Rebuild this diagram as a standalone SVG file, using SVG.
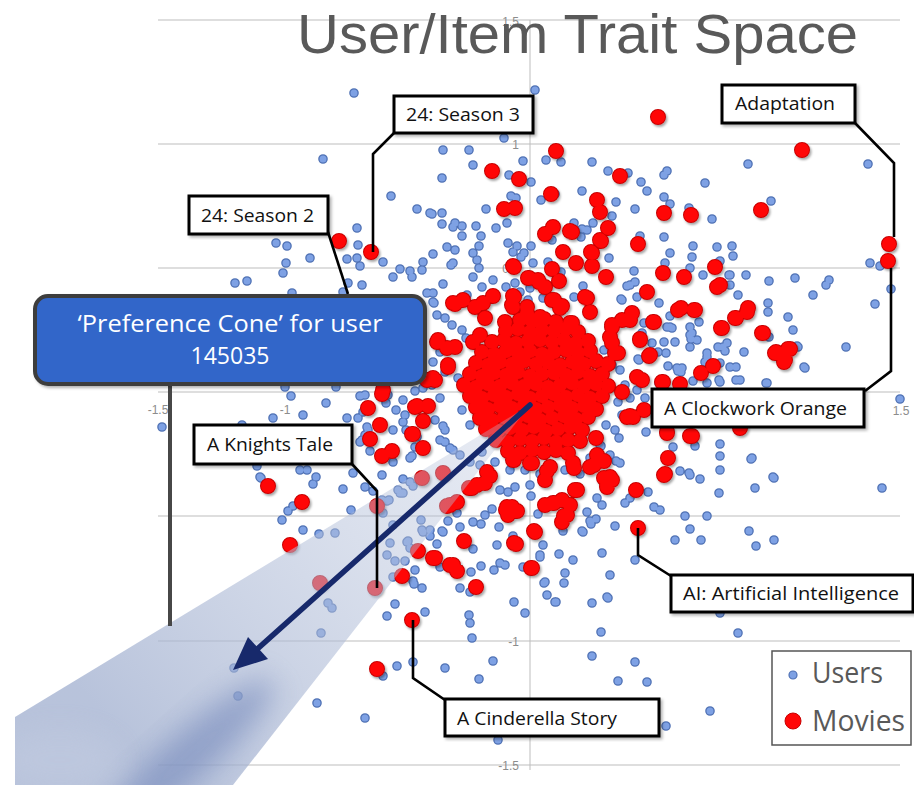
<svg xmlns="http://www.w3.org/2000/svg" xmlns:xlink="http://www.w3.org/1999/xlink" width="914" height="785" viewBox="0 0 914 785">
<style>
.grid{stroke:#bdbdbd;stroke-width:1;fill:none}
.tick{font-family:"Liberation Sans",Arial,sans-serif;font-size:12px;fill:#8c8c8c}
.bO{fill:none;stroke:#4f71b4;stroke-width:9.6;stroke-linecap:round}
.bI{fill:none;stroke:#7ea1e4;stroke-width:7;stroke-linecap:round}
.rO{fill:none;stroke:#c80000;stroke-width:16;stroke-linecap:round}
.rI{fill:none;stroke:#ff0606;stroke-width:14;stroke-linecap:round}
.lead{fill:none;stroke:#000;stroke-width:2.6;stroke-linejoin:miter}
.box{fill:#fff;stroke:#000;stroke-width:3}
.lbl{font-family:"Open Sans","Liberation Sans",Arial,sans-serif;font-size:18px;fill:#111}
.leg{font-family:"Open Sans","Liberation Sans",Arial,sans-serif;font-size:29px;fill:#595959}
</style>
<defs>
<filter id="sh" x="-10%" y="-10%" width="130%" height="130%"><feDropShadow dx="1.5" dy="2" stdDeviation="1.2" flood-color="#000" flood-opacity="0.35"/></filter>
<filter id="bshadow" x="-5%" y="-5%" width="115%" height="120%"><feDropShadow dx="2" dy="2" stdDeviation="1.5" flood-color="#000" flood-opacity="0.3"/></filter>
<filter id="blur12" x="-50%" y="-50%" width="200%" height="200%"><feGaussianBlur stdDeviation="14"/></filter>
<linearGradient id="coneG" gradientUnits="userSpaceOnUse" x1="530" y1="405" x2="140" y2="755">
<stop offset="0" stop-color="#b9c4dc" stop-opacity="0.3"/>
<stop offset="0.45" stop-color="#b3bfd9" stop-opacity="0.52"/>
<stop offset="1" stop-color="#a4b2d1" stop-opacity="0.78"/>
</linearGradient>
<clipPath id="coneClip"><polygon points="530,405 15,717 15,785 233,785"/></clipPath>
<path id="bd" d="M354 93h0M535 90h0M323 159h0M443 150h0M442 178h0M391 196h0M417 209h0M430 213h0M442 213h0M442 224h0M453 227h0M357 228h0M276 243h0M287 246h0M358 245h0M310 258h0M286 263h0M283 273h0M347 259h0M357 258h0M360 266h0M383 262h0M433 254h0M423 262h0M422 270h0M393 277h0M400 269h0M410 271h0M412 277h0M447 247h0M453 263h0M348 283h0M362 285h0M235 283h0M247 281h0M292 293h0M343 292h0M427 293h0M433 302h0
M469 150h0M504 138h0M473 165h0M523 161h0M509 175h0M531 182h0M546 160h0M561 162h0M592 162h0M608 171h0M582 191h0M511 196h0M516 198h0M541 200h0M555 194h0M486 209h0M616 202h0M612 216h0M593 223h0M574 223h0M582 229h0M587 230h0M432 214h0M455 223h0M462 226h0M462 236h0M476 226h0M481 236h0M496 228h0M507 223h0M552 240h0M581 237h0M455 250h0M451 265h0M479 246h0M473 253h0M477 260h0M479 268h0M508 243h0M517 246h0M513 252h0M521 257h0M524 253h0M531 246h0M533 263h0M548 262h0M561 272h0M609 258h0M443 284h0M473 277h0M482 287h0M493 280h0M506 287h0M515 283h0M520 292h0M530 288h0M583 286h0M574 297h0M622 300h0M433 293h0M434 303h0M467 295h0M528 300h0M543 298h0
M628 173h0M667 171h0M664 175h0M641 182h0M647 191h0M705 183h0M748 164h0M868 164h0M664 197h0M670 204h0M635 209h0M689 208h0M712 219h0M771 201h0M640 236h0M664 237h0M693 246h0M692 257h0M717 247h0M732 246h0M733 256h0M670 253h0M665 263h0M719 262h0M870 263h0M880 266h0M891 289h0M875 304h0M795 278h0M813 295h0M826 285h0M829 280h0M769 281h0M746 275h0M730 275h0M730 285h0M738 295h0M768 303h0M768 312h0M788 317h0M793 330h0M846 347h0M805 368h0M797 346h0M769 337h0M744 352h0M736 367h0M767 383h0M740 380h0M723 347h0M725 351h0M707 353h0M705 362h0M690 327h0M690 335h0M697 340h0M699 322h0M664 342h0M675 342h0M666 353h0M668 366h0M677 368h0M681 372h0M659 303h0M644 323h0M642 333h0M638 359h0M621 299h0M627 286h0M635 282h0M637 297h0M670 316h0M670 327h0M659 383h0M693 381h0M720 382h0M736 380h0M690 268h0M703 275h0M729 275h0M720 261h0M634 271h0M630 285h0M804 367h0M798 347h0M727 343h0M718 347h0M707 357h0M692 333h0M691 339h0M690 347h0M672 328h0M667 327h0M658 352h0M652 343h0M639 360h0M678 371h0M682 368h0M720 363h0M730 367h0M707 383h0M719 380h0M766 383h0M637 390h0M645 398h0M630 398h0
M900 399h0M882 488h0M774 478h0M755 488h0M751 459h0M720 444h0M720 456h0M720 470h0M719 493h0M700 479h0M690 475h0M680 471h0M673 447h0M695 446h0M646 432h0M619 438h0M601 446h0M616 461h0M620 463h0M648 492h0M654 507h0M660 510h0M685 516h0M707 516h0M690 529h0M701 540h0M675 540h0M749 531h0M756 546h0M774 540h0M615 526h0M635 560h0M610 575h0M607 597h0M592 603h0M601 632h0M738 633h0M720 613h0M592 656h0M635 662h0M618 681h0M647 682h0M710 711h0M666 726h0M493 661h0M479 679h0M498 740h0M472 638h0M469 615h0M470 623h0M514 602h0M525 613h0M545 582h0M565 573h0M564 583h0M555 602h0M547 595h0M540 555h0M543 545h0M559 554h0M573 560h0M602 553h0M582 531h0M590 521h0M596 519h0M625 503h0M630 498h0M752 458h0M773 477h0M689 473h0
M457 513h0M448 521h0M460 527h0M473 522h0M481 524h0M485 515h0M492 509h0M499 527h0M443 532h0M437 544h0M473 549h0M497 545h0M513 536h0M540 557h0M544 583h0M556 602h0M608 598h0M481 566h0M494 570h0M500 563h0M505 565h0M523 567h0M471 572h0M440 567h0M460 588h0M470 592h0M583 532h0M591 524h0M587 512h0M538 514h0M563 531h0M500 490h0M508 492h0M515 487h0M530 485h0M531 496h0M597 498h0M602 505h0
M291 396h0M285 387h0M326 403h0M336 387h0M273 418h0M303 415h0M360 396h0M365 395h0M363 412h0M358 418h0M367 427h0M365 435h0M360 442h0M388 395h0M386 403h0M396 410h0M403 400h0M415 391h0M423 388h0M427 408h0M403 422h0M406 430h0M417 437h0M415 447h0M410 458h0M353 473h0M382 475h0M300 470h0M307 470h0M316 477h0M260 477h0M162 427h0M242 425h0M347 418h0M368 430h0M370 451h0M362 440h0M405 415h0M393 430h0M380 426h0M412 456h0M393 462h0M383 456h0M403 479h0M413 486h0M400 493h0M421 520h0M445 442h0M443 426h0M453 450h0M442 531h0M430 536h0M422 530h0M408 541h0M410 548h0M387 555h0M395 561h0M405 561h0M415 570h0M413 581h0M422 588h0M395 604h0M387 616h0M425 612h0M257 466h0M261 478h0M313 484h0M343 489h0M365 487h0M373 491h0M382 500h0M387 501h0M293 506h0M288 511h0M282 520h0M351 510h0M303 530h0M319 534h0M335 533h0M328 603h0M332 608h0M321 633h0M234 668h0M238 696h0M317 703h0M365 718h0M397 666h0M413 662h0M445 668h0M383 676h0M398 490h0M403 493h0M410 482h0M393 525h0M390 543h0M407 542h0M393 577h0M414 584h0M423 532h0M430 530h0M389 500h0M383 513h0
M437 315h0M445 318h0M452 325h0M462 330h0M440 352h0M433 362h0M445 372h0M432 385h0M440 398h0M435 420h0M445 430h0M440 440h0M450 448h0M460 455h0M470 462h0M480 465h0M620 370h0M625 385h0M618 402h0M622 415h0M615 430h0M600 445h0M610 455h0M590 458h0M495 462h0M510 470h0M525 470h0M540 474h0M565 470h0M580 474h0M466 338h0M458 378h0M462 410h0M470 425h0M604 350h0M612 365h0M606 425h0M482 452h0"/>
<path id="rd" d="M339 241h0M371 252h0M658 117h0M802 150h0M556 151h0M492 171h0M519 179h0M620 176h0M551 194h0M597 200h0M600 212h0M504 209h0M515 208h0M664 213h0M691 215h0M761 210h0M889 244h0M888 261h0M638 244h0M608 228h0M600 240h0M591 252h0M570 231h0M553 227h0M545 234h0M572 232h0M601 241h0M592 253h0M563 252h0M576 263h0M592 266h0M606 277h0M513 266h0M552 269h0M528 278h0M538 280h0M545 287h0M559 281h0M552 300h0M562 306h0M585 297h0M513 296h0M493 296h0M483 303h0M463 300h0M455 304h0M475 307h0M513 307h0M527 307h0M663 273h0M684 277h0M715 267h0M717 287h0M720 285h0M647 292h0M681 308h0M694 310h0M748 308h0M736 318h0M721 328h0M762 333h0M776 352h0M788 349h0M785 360h0M713 366h0M701 373h0M654 322h0M640 339h0M649 356h0M637 377h0M663 382h0M680 384h0M632 313h0M612 325h0M610 337h0M615 353h0M590 312h0M587 298h0M570 323h0M554 300h0M560 308h0M529 278h0M539 282h0M514 267h0M514 297h0M512 305h0M630 320h0M653 322h0M678 310h0M695 310h0M735 318h0M747 312h0M722 328h0M763 333h0M775 353h0M790 349h0M784 362h0M640 340h0M650 355h0M642 380h0M662 382h0M633 417h0M644 410h0M667 433h0M692 436h0M668 458h0M665 474h0M740 428h0M630 416h0M636 490h0M638 528h0M664 475h0M690 436h0M667 432h0
M368 408h0M380 425h0M412 434h0M423 421h0M417 406h0M428 406h0M382 456h0M392 451h0M423 448h0M443 473h0M447 506h0M418 551h0M433 558h0M450 565h0M402 576h0M412 620h0M377 669h0M268 486h0M302 502h0M290 545h0M320 583h0M375 588h0M377 506h0M422 478h0M382 394h0M370 439h0M413 434h0M415 407h0M427 380h0
M450 505h0M457 502h0M472 488h0M485 483h0M507 507h0M517 511h0M508 515h0M545 480h0M553 503h0M562 500h0M577 490h0M567 515h0M562 522h0M607 485h0M535 532h0M464 541h0M516 544h0M435 558h0M453 565h0M457 571h0M532 568h0M476 587h0M514 543h0M534 531h0M531 568h0M506 510h0M512 507h0M604 478h0M612 480h0M607 487h0M575 490h0M570 505h0M564 516h0M554 503h0M545 505h0M574 468h0M547 471h0M530 463h0M514 460h0M594 465h0M597 455h0M604 461h0M477 485h0M469 488h0M490 476h0
M453 303h0M438 340h0M447 348h0M433 378h0M448 367h0M383 390h0M437 342h0M455 347h0M448 365h0M435 380h0M473 342h0M480 335h0M485 318h0M505 322h0M527 313h0M540 317h0M572 323h0M612 327h0M622 320h0M612 343h0M618 353h0M622 392h0M627 417h0M487 472h0M513 460h0M532 463h0M550 467h0M573 463h0M590 467h0M610 477h0
M520 320h0M532 321h0M544 319h0M556 322h0M506 331h0M518 329h0M530 332h0M542 330h0M554 331h0M566 329h0M578 332h0M492 342h0M504 340h0M516 343h0M528 341h0M540 340h0M552 342h0M564 340h0M576 343h0M588 341h0M482 352h0M494 354h0M506 351h0M518 353h0M530 351h0M542 354h0M554 352h0M566 350h0M578 353h0M590 351h0M476 363h0M488 365h0M500 362h0M512 364h0M524 361h0M536 364h0M548 362h0M560 365h0M572 362h0M584 364h0M596 361h0M608 364h0M470 374h0M482 376h0M494 373h0M506 375h0M518 372h0M530 376h0M542 374h0M554 373h0M566 375h0M578 372h0M590 376h0M602 374h0M464 385h0M476 387h0M488 384h0M500 386h0M512 383h0M524 386h0M536 384h0M548 387h0M560 385h0M572 383h0M584 386h0M596 384h0M608 386h0M470 396h0M482 398h0M494 395h0M506 397h0M518 394h0M530 398h0M542 396h0M554 394h0M566 397h0M578 395h0M590 398h0M602 396h0M476 407h0M488 409h0M500 406h0M512 408h0M524 405h0M536 409h0M548 407h0M560 405h0M572 408h0M584 406h0M596 409h0M480 418h0M492 420h0M504 417h0M516 419h0M528 416h0M540 420h0M552 418h0M564 416h0M576 419h0M588 417h0M486 429h0M498 431h0M510 428h0M522 430h0M534 427h0M546 431h0M558 429h0M570 427h0M582 430h0M596 438h0M496 440h0M508 442h0M520 439h0M532 441h0M544 438h0M556 442h0M568 440h0M580 441h0M508 451h0M520 453h0M532 450h0M544 452h0M556 450h0M568 453h0"/>
</defs>

<rect width="914" height="785" fill="#fff"/>

<g id="axes">
<path class="grid" d="M158 20H900M158 144H900M158 268H900M158 392H900M158 516H900M158 641H900M158 765H900M530 20V770"/>
<text class="tick" x="519" y="26" text-anchor="end">1.5</text>
<text class="tick" x="519" y="149" text-anchor="end">1</text>
<text class="tick" x="519" y="273" text-anchor="end">0.5</text>
<text class="tick" x="519" y="646" text-anchor="end">-1</text>
<text class="tick" x="519" y="770" text-anchor="end">-1.5</text>
<text class="tick" x="158" y="414" text-anchor="middle">-1.5</text>
<text class="tick" x="285" y="414" text-anchor="middle">-1</text>
<text class="tick" x="901" y="415" text-anchor="middle">1.5</text>
</g>

<g id="users">
<use xlink:href="#bd" class="bO"/>
<use xlink:href="#bd" class="bI"/>
</g>
<g id="movies">
<use xlink:href="#rd" class="rO" filter="url(#sh)"/>
<use xlink:href="#rd" class="rI"/>
</g>

<g id="cone">
<polygon points="530,405 15,717 15,785 233,785" fill="url(#coneG)"/>
<g clip-path="url(#coneClip)">
<ellipse cx="190" cy="755" rx="110" ry="24" transform="rotate(-41.6 190 755)" fill="#6d82b7" opacity="0.55" filter="url(#blur12)"/>
<ellipse cx="60" cy="760" rx="60" ry="30" fill="#c5cee2" opacity="0.4" filter="url(#blur12)"/>
</g>
</g>

<g id="arrow">
<line x1="530" y1="405" x2="254" y2="652" stroke="#17296b" stroke-width="5.5" stroke-linecap="round"/>
<polygon points="233,670 248,637 268,659" fill="#17296b"/>
</g>

<g id="connectors">
<path class="lead" d="M394 133L373 154V252"/>
<path class="lead" d="M328 232L348 294"/>
<path class="lead" d="M855 123L894 163V237"/>
<path class="lead" d="M865 391L891 371V268"/>
<path class="lead" d="M352 464L377 491V588"/>
<path class="lead" d="M413 620V678L445 700"/>
<path class="lead" d="M638 528V555L671 576"/>
<path d="M170 386V626" stroke="#474747" stroke-width="4" fill="none"/>
</g>

<g id="label-season3">
<rect class="box" x="394" y="96" width="139" height="37" filter="url(#bshadow)"/>
<text class="lbl" x="406" y="121" textLength="114" lengthAdjust="spacingAndGlyphs">24: Season 3</text>
</g>
<g id="label-season2">
<rect class="box" x="189" y="196" width="139" height="38" filter="url(#bshadow)"/>
<text class="lbl" x="201" y="222" textLength="113" lengthAdjust="spacingAndGlyphs">24: Season 2</text>
</g>
<g id="label-adaptation">
<rect class="box" x="722" y="85" width="133" height="38" filter="url(#bshadow)"/>
<text class="lbl" x="735" y="110" textLength="100" lengthAdjust="spacingAndGlyphs">Adaptation</text>
</g>
<g id="label-knights">
<rect class="box" x="194" y="425" width="158" height="39" filter="url(#bshadow)"/>
<text class="lbl" x="207" y="451" textLength="126" lengthAdjust="spacingAndGlyphs">A Knights Tale</text>
</g>
<g id="label-clockwork">
<rect class="box" x="652" y="389" width="212" height="38" filter="url(#bshadow)"/>
<text class="lbl" x="664" y="415" textLength="183" lengthAdjust="spacingAndGlyphs">A Clockwork Orange</text>
</g>
<g id="label-ai">
<rect class="box" x="671" y="575" width="242" height="37" filter="url(#bshadow)"/>
<text class="lbl" x="683" y="600" textLength="216" lengthAdjust="spacingAndGlyphs">AI: Artificial Intelligence</text>
</g>
<g id="label-cinderella">
<rect class="box" x="445" y="699" width="214" height="37" filter="url(#bshadow)"/>
<text class="lbl" x="457" y="725" textLength="160" lengthAdjust="spacingAndGlyphs">A Cinderella Story</text>
</g>

<g id="preference-cone-box">
<rect x="35" y="296" width="390" height="88" rx="13" fill="#3366c9" stroke="#3d3d3d" stroke-width="4" filter="url(#bshadow)"/>
<text x="230" y="332" text-anchor="middle" font-family="'Open Sans','Liberation Sans',Arial,sans-serif" font-size="23" fill="#fff" textLength="305" lengthAdjust="spacingAndGlyphs">‘Preference Cone’ for user</text>
<text x="230" y="364" text-anchor="middle" font-family="'Open Sans','Liberation Sans',Arial,sans-serif" font-size="23" fill="#fff">145035</text>
</g>

<g id="legend">
<rect x="772" y="651" width="139" height="94" fill="#fff" stroke="#555" stroke-width="1.5"/>
<circle cx="793" cy="675" r="4" fill="#7ea1e4" stroke="#4f71b4" stroke-width="1.2"/>
<circle cx="793" cy="721" r="8" fill="#ff0606" stroke="#c80000" stroke-width="1"/>
<text class="leg" x="812" y="683" textLength="71" lengthAdjust="spacingAndGlyphs">Users</text>
<text class="leg" x="812" y="731" textLength="93" lengthAdjust="spacingAndGlyphs">Movies</text>
</g>

<g id="title">
<text x="297" y="53" font-family="'Liberation Sans',Arial,sans-serif" font-size="55" fill="#595959" textLength="561" lengthAdjust="spacingAndGlyphs">User/Item Trait Space</text>
</g>
</svg>
